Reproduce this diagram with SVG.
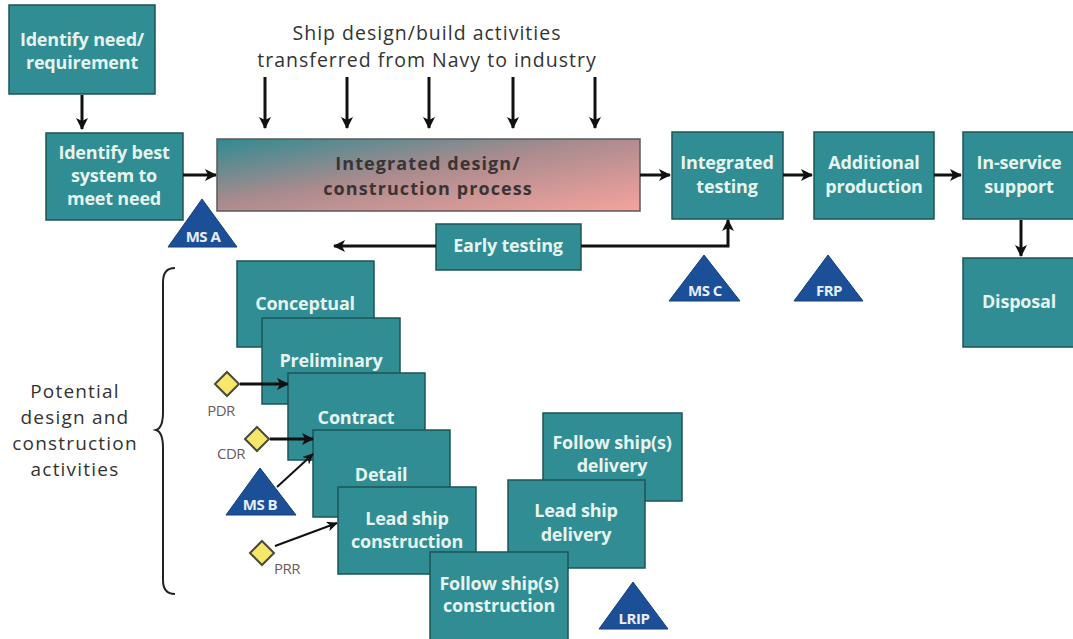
<svg xmlns="http://www.w3.org/2000/svg" width="1073" height="639" viewBox="0 0 1073 639">
  <defs>
    <style>
      .box { fill: #2f8d93; stroke: #1d5558; stroke-width: 1.5; }
      .lbl { font-family: "Open Sans", "Noto Sans", sans-serif; font-weight: 700; font-size: 18px; fill: #e6f3ef; text-anchor: middle; letter-spacing: -0.2px; }
      .big { font-family: "Open Sans", "Noto Sans", sans-serif; font-weight: 700; font-size: 18px; fill: #3a3434; text-anchor: middle; letter-spacing: 1.1px; }
      .note { font-family: "Open Sans", "Noto Sans", sans-serif; font-size: 19.5px; fill: #333; text-anchor: middle; letter-spacing: 1px; }
      .cap { font-family: "Open Sans", "Noto Sans", sans-serif; font-size: 19px; fill: #333; text-anchor: middle; letter-spacing: 1.2px; }
      .ms { fill: #1b4f98; stroke: #163f7a; stroke-width: 1; }
      .mst { font-family: "Open Sans", "Noto Sans", sans-serif; font-weight: 700; font-size: 15px; fill: #e8eef8; text-anchor: middle; letter-spacing: -0.5px; }
      .dia { fill: #f6e66a; stroke: #4a4a3a; stroke-width: 2; }
      .rev { font-family: "Open Sans", "Noto Sans", sans-serif; font-size: 15px; fill: #6b5c60; text-anchor: middle; letter-spacing: -0.5px; }
      .arr { fill: none; stroke: #111; stroke-width: 3; marker-end: url(#ah); }
      .thin { fill: none; stroke: #111; stroke-width: 2; marker-end: url(#ahs); }
    </style>
    <marker id="ah" markerUnits="userSpaceOnUse" markerWidth="12" markerHeight="12" refX="11" refY="6" orient="auto">
      <path d="M0,0 L12,6 L0,12 L3,6 Z" fill="#111"/>
    </marker>
    <marker id="ahs" markerUnits="userSpaceOnUse" markerWidth="11" markerHeight="10" refX="10" refY="5" orient="auto">
      <path d="M0,0 L11,5 L0,10 L3,5 Z" fill="#111"/>
    </marker>
    <linearGradient id="grad" x1="0" y1="0" x2="1" y2="1">
      <stop offset="0" stop-color="#2f8b92"/>
      <stop offset="0.45" stop-color="#a98b8e"/>
      <stop offset="1" stop-color="#f6a39e"/>
    </linearGradient>
  </defs>

  <rect width="1073" height="639" fill="#ffffff"/>

  <!-- heading over the top arrows -->
  <g id="heading">
    <text class="note" x="427" y="40">Ship design/build activities</text>
    <text class="note" x="427" y="67">transferred from Navy to industry</text>
  </g>

  <!-- main sequence -->
  <g id="identify-need">
    <rect class="box" x="9" y="5" width="146" height="89"/>
    <text class="lbl" x="82" y="46">Identify need/</text>
    <text class="lbl" x="82" y="69">requirement</text>
  </g>
  <g id="identify-best">
    <rect class="box" x="46" y="133" width="137" height="87"/>
    <text class="lbl" x="114" y="159">Identify best</text>
    <text class="lbl" x="114" y="182">system to</text>
    <text class="lbl" x="114" y="205">meet need</text>
  </g>
  <g id="integrated-process">
    <rect x="217" y="139" width="423" height="72" fill="url(#grad)" stroke="#5a5a5a" stroke-width="1.5"/>
    <text class="big" x="428" y="170">Integrated design/</text>
    <text class="big" x="428" y="195">construction process</text>
  </g>
  <g id="integrated-testing">
    <rect class="box" x="672" y="132" width="111" height="87"/>
    <text class="lbl" x="727" y="169">Integrated</text>
    <text class="lbl" x="727" y="193">testing</text>
  </g>
  <g id="additional-production">
    <rect class="box" x="814" y="132" width="120" height="87"/>
    <text class="lbl" x="874" y="169">Additional</text>
    <text class="lbl" x="874" y="193">production</text>
  </g>
  <g id="in-service">
    <rect class="box" x="963" y="132" width="115" height="87"/>
    <text class="lbl" x="1019" y="169">In-service</text>
    <text class="lbl" x="1019" y="193">support</text>
  </g>
  <g id="disposal">
    <rect class="box" x="963" y="258" width="115" height="89"/>
    <text class="lbl" x="1019" y="308">Disposal</text>
  </g>
  <g id="early-testing">
    <rect class="box" x="436" y="224" width="145" height="46"/>
    <text class="lbl" x="508" y="252">Early testing</text>
  </g>

  <!-- milestones -->
  <g id="ms-a">
    <polygon class="ms" points="202,199 237,247 168,247"/>
    <text class="mst" x="203" y="242">MS A</text>
  </g>
  <g id="ms-c">
    <polygon class="ms" points="704,255 740,301 669,301"/>
    <text class="mst" x="705" y="296">MS C</text>
  </g>
  <g id="frp">
    <polygon class="ms" points="828,255 863,301 794,301"/>
    <text class="mst" x="829" y="296">FRP</text>
  </g>

  <!-- grouping brace and caption -->
  <g id="activities-brace">
    <path d="M175,268 Q163,268 163,282 V412 Q163,428 156,430 Q163,432 163,448 V580 Q163,594 175,594" fill="none" stroke="#222" stroke-width="2"/>
    <text class="cap" x="75" y="398">Potential</text>
    <text class="cap" x="75" y="424">design and</text>
    <text class="cap" x="75" y="450">construction</text>
    <text class="cap" x="75" y="476">activities</text>
  </g>

  <!-- design/construction phases -->
  <g id="conceptual">
    <rect class="box" x="237" y="261" width="137" height="86"/>
    <text class="lbl" x="305" y="310">Conceptual</text>
  </g>
  <g id="preliminary">
    <rect class="box" x="262" y="318" width="138" height="86"/>
    <text class="lbl" x="331" y="367">Preliminary</text>
  </g>
  <g id="contract">
    <rect class="box" x="288" y="373" width="137" height="87"/>
    <text class="lbl" x="356" y="424">Contract</text>
  </g>
  <g id="detail">
    <rect class="box" x="313" y="430" width="137" height="87"/>
    <text class="lbl" x="381" y="481">Detail</text>
  </g>
  <g id="follow-delivery">
    <rect class="box" x="543" y="413" width="139" height="88"/>
    <text class="lbl" x="612" y="449">Follow ship(s)</text>
    <text class="lbl" x="612" y="472">delivery</text>
  </g>
  <g id="lead-delivery">
    <rect class="box" x="508" y="480" width="137" height="88"/>
    <text class="lbl" x="576" y="517">Lead ship</text>
    <text class="lbl" x="576" y="541">delivery</text>
  </g>
  <g id="lead-construction">
    <rect class="box" x="338" y="487" width="138" height="87"/>
    <text class="lbl" x="407" y="525">Lead ship</text>
    <text class="lbl" x="407" y="548">construction</text>
  </g>
  <g id="follow-construction">
    <rect class="box" x="430" y="552" width="138" height="90"/>
    <text class="lbl" x="499" y="590">Follow ship(s)</text>
    <text class="lbl" x="499" y="612">construction</text>
  </g>

  <!-- reviews and remaining milestones -->
  <g id="pdr">
    <polygon class="dia" points="227,372 239,384 227,396 215,384"/>
    <text class="rev" x="221" y="416">PDR</text>
  </g>
  <g id="cdr">
    <polygon class="dia" points="257,427 269,439 257,451 245,439"/>
    <text class="rev" x="231" y="459">CDR</text>
  </g>
  <g id="ms-b">
    <polygon class="ms" points="260,468 296,515 226,515"/>
    <text class="mst" x="260" y="510">MS B</text>
  </g>
  <g id="prr">
    <polygon class="dia" points="262,541 274,553 262,565 250,553"/>
    <text class="rev" x="287" y="574">PRR</text>
  </g>
  <g id="lrip">
    <polygon class="ms" points="633,582 668,629 599,629"/>
    <text class="mst" x="634" y="624">LRIP</text>
  </g>

  <!-- connectors -->
  <g id="connectors">
    <path class="arr" d="M82,95 V129"/>
    <path class="arr" d="M183,175 H216"/>
    <path class="arr" d="M265,77 V128"/>
    <path class="arr" d="M347,77 V128"/>
    <path class="arr" d="M429,77 V128"/>
    <path class="arr" d="M513,77 V128"/>
    <path class="arr" d="M595,77 V128"/>
    <path class="arr" d="M640,175 H670"/>
    <path class="arr" d="M783,175 H812"/>
    <path class="arr" d="M934,175 H961"/>
    <path class="arr" d="M1021,220 V256"/>
    <path class="arr" d="M436,246 H334"/>
    <path class="arr" d="M581,246 H728 V220"/>
    <path class="arr" d="M240,384 H288"/>
    <path class="arr" d="M270,439 H313"/>
    <path class="thin" d="M277,487 L313,454"/>
    <path class="thin" d="M275,546 L337,523"/>
  </g>
</svg>
